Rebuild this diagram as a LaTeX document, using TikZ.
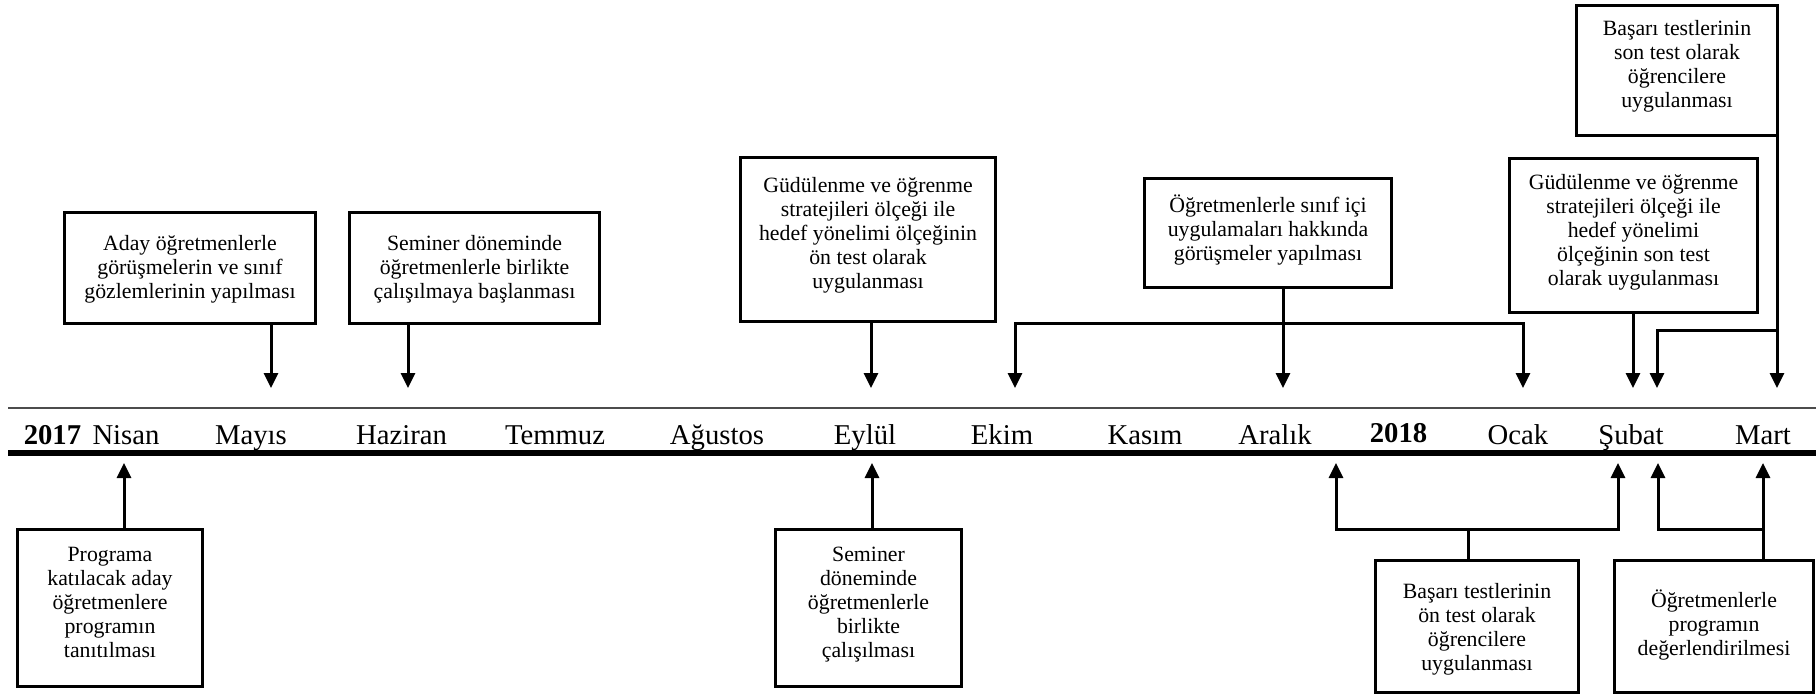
\documentclass[tikz,border=0pt]{standalone}
\usepackage{fontspec}
\setmainfont{Liberation Serif}
\usetikzlibrary{arrows.meta}

% Box content: width, height, distance from top to first baseline, text
\newcommand{\evtext}[4]{%
  \parbox[c][#2pt][t]{#1pt}{\centering\fontsize{21.8}{24}\selectfont\rule{0pt}{#3pt}#4}}

\begin{document}
\begin{tikzpicture}[x=1pt,y=-1pt,
  evbox/.style={draw,line width=3pt,inner sep=0pt},
  arr/.style={line width=3pt,-{Triangle[width=14pt,length=15pt]}},
  conn/.style={line width=3pt},
  month/.style={font=\fontsize{28.7}{30}\selectfont,inner sep=0pt,anchor=base},
  year/.style={month,font=\fontsize{28.7}{30}\selectfont\bfseries}]

\useasboundingbox (0,0) rectangle (1816,699);

% timeline rules
\draw[black!70,line width=1.5pt] (8,408) -- (1816,408);
\draw[line width=6pt] (8,453) -- (1816,453);

% months
\node[year]  (y17)  at (52.5,444) {2017};
\node[month] (mNis) at (126,444)  {Nisan};
\node[month] (mMay) at (251,444)  {Mayıs};
\node[month] (mHaz) at (401.5,444) {Haziran};
\node[month] (mTem) at (555,444)  {Temmuz};
\node[month] (mAgu) at (717,444)  {Ağustos};
\node[month] (mEyl) at (865,444)  {Eylül};
\node[month] (mEki) at (1002,444) {Ekim};
\node[month] (mKas) at (1145,444) {Kasım};
\node[month] (mAra) at (1275,444) {Aralık};
\node[year]  (y18)  at (1398.5,442) {2018};
\node[month] (mOca) at (1518,444) {Ocak};
\node[month] (mSub) at (1631,444) {Şubat};
\node[month] (mMar) at (1763,444) {Mart};

% boxes above the timeline
\node[evbox] (b1) at (190,268)
  {\evtext{251}{111}{37.5}{Aday öğretmenlerle\\görüşmelerin ve sınıf\\gözlemlerinin yapılması}};
\node[evbox] (b2) at (474.5,268)
  {\evtext{250}{111}{37.5}{Seminer döneminde\\öğretmenlerle birlikte\\çalışılmaya başlanması}};
\node[evbox] (b3) at (868,239.5)
  {\evtext{255}{164}{34.5}{Güdülenme ve öğrenme\\stratejileri ölçeği ile\\hedef yönelimi ölçeğinin\\ön test olarak\\uygulanması}};
\node[evbox] (b4) at (1268,233)
  {\evtext{247}{109}{33.5}{Öğretmenlerle sınıf içi\\uygulamaları hakkında\\görüşmeler yapılması}};
\node[evbox] (b5) at (1633.5,235.5)
  {\evtext{248}{154}{30.5}{Güdülenme ve öğrenme\\stratejileri ölçeği ile\\hedef yönelimi\\ölçeğinin son test\\olarak uygulanması}};
\node[evbox] (b6) at (1677,70.5)
  {\evtext{201}{130}{29.5}{Başarı testlerinin\\son test olarak\\öğrencilere\\uygulanması}};

% boxes below the timeline
\node[evbox] (c1) at (110,608)
  {\evtext{185}{157}{31.5}{Programa\\katılacak aday\\öğretmenlere\\programın\\tanıtılması}};
\node[evbox] (c2) at (868.5,608)
  {\evtext{186}{157}{31.5}{Seminer\\döneminde\\öğretmenlerle\\birlikte\\çalışılması}};
\node[evbox] (c3) at (1477,626.5)
  {\evtext{203}{132}{37.5}{Başarı testlerinin\\ön test olarak\\öğrencilere\\uygulanması}};
\node[evbox] (c4) at (1714,626.5)
  {\evtext{199}{132}{46.5}{Öğretmenlerle\\programın\\değerlendirilmesi}};

% arrow tips on the timeline
\coordinate (dMay) at (271,388);
\coordinate (dHaz) at (408,388);
\coordinate (dEyl) at (871,388);
\coordinate (dEki) at (1015,388);
\coordinate (dAra) at (1283,388);
\coordinate (dOca) at (1523,388);
\coordinate (dSub) at (1633,388);
\coordinate (dSb2) at (1657,388);
\coordinate (dMar) at (1777,388);
\coordinate (uNis) at (124,463);
\coordinate (uEyl) at (872,463);
\coordinate (uAra) at (1336,463);
\coordinate (uSub) at (1618,463);
\coordinate (uSb2) at (1658,463);
\coordinate (uMar) at (1763,463);

% junctions of the branching connectors
\coordinate (jA) at (1283,323);
\coordinate (jB) at (1777,330);
\coordinate (jC) at (1468,529);
\coordinate (jD) at (1763,529);

% connectors from the upper boxes
\draw[arr] (b1.south -| dMay) -- (dMay);
\draw[arr] (b2.south -| dHaz) -- (dHaz);
\draw[arr] (b3.south -| dEyl) -- (dEyl);
\draw[arr] (b4.south -| dAra) -- (dAra);
\draw[arr] (jA) -- (jA -| dEki) -- (dEki);
\draw[arr] (jA) -- (jA -| dOca) -- (dOca);
\draw[arr] (b5.south -| dSub) -- (dSub);
\draw[arr] (b6.south -| dMar) -- (dMar);
\draw[arr] (jB) -- (jB -| dSb2) -- (dSb2);

% connectors from the lower boxes
\draw[arr] (c1.north -| uNis) -- (uNis);
\draw[arr] (c2.north -| uEyl) -- (uEyl);
\draw[conn] (c3.north -| jC) -- (jC);
\draw[arr] (jC) -- (jC -| uAra) -- (uAra);
\draw[arr] (jC) -- (jC -| uSub) -- (uSub);
\draw[arr] (c4.north -| uMar) -- (uMar);
\draw[arr] (jD) -- (jD -| uSb2) -- (uSb2);

\end{tikzpicture}
\end{document}
